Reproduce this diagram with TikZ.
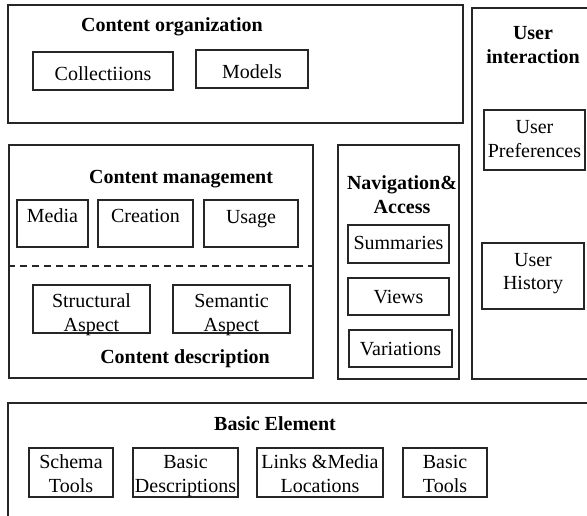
\documentclass[tikz,border=0pt]{standalone}
\usepackage{fontspec}
\setmainfont{Liberation Serif}
\begin{document}
\begin{tikzpicture}[x=1pt,y=-1pt,
  frame/.style={draw=black!85,line width=1.5pt,inner sep=0pt},
  item/.style={draw=black!85,line width=1.3pt,inner sep=0pt},
  txt/.style={inner sep=0pt,anchor=base,align=center,
    font=\fontsize{20}{24}\selectfont},
  ttl/.style={txt,font=\fontsize{20}{24}\selectfont\bfseries},
  sep/.style={draw=black!85,line width=1.3pt,dash pattern=on 7pt off 5pt}]
\clip (0,0) rectangle (587,516);
\fill[white] (0,0) rectangle (587,516);

% outer groups
\node[frame,minimum width=455,minimum height=118] (corg) at (235.5,64) {};
\node[frame,minimum width=148,minimum height=371] (uint) at (546,193.5) {};
\node[frame,minimum width=304,minimum height=233] (cman) at (161,261.5) {};
\node[frame,minimum width=121,minimum height=234] (nav) at (398.5,262) {};
\node[frame,minimum width=612,minimum height=137] (basic) at (314,471.5) {};

% group titles (placed by last baseline)
\node[ttl] (corgT) at (172,32) {Content organization};
\node[ttl] (uintT) at (533,64) {User\\interaction};
\node[ttl] (cmanT) at (181,184) {Content management};
\node[ttl] (navT) at (402,214) {Navigation\&\\Access};
\node[ttl] (cdesT) at (185,363) {Content description};
\node[ttl] (basicT) at (275,430) {Basic Element};

% content organization
\node[item,minimum width=140,minimum height=38] (coll) at (103,71) {};
\node[txt] (collT) at (103,81) {Collectiions};
\node[item,minimum width=112,minimum height=38] (models) at (252,69) {};
\node[txt] (modelsT) at (252,79) {Models};

% user interaction
\node[item,minimum width=101,minimum height=60] (upref) at (534.5,140) {};
\node[txt] (uprefT) at (534.5,158) {User\\Preferences};
\node[item,minimum width=102,minimum height=66] (uhist) at (533,276) {};
\node[txt] (uhistT) at (533,290) {User\\History};

% navigation & access
\node[item,minimum width=101,minimum height=38] (summ) at (398.5,244) {};
\node[txt] (summT) at (398.5,250) {Summaries};
\node[item,minimum width=101,minimum height=37] (views) at (398.5,296.5) {};
\node[txt] (viewsT) at (398.5,303) {Views};
\node[item,minimum width=103,minimum height=37] (vari) at (400.5,348.5) {};
\node[txt] (variT) at (400.5,355) {Variations};

% content management / description
\node[item,minimum width=71,minimum height=47] (media) at (52.5,223.5) {};
\node[txt] (mediaT) at (52.5,223) {Media};
\node[item,minimum width=95,minimum height=47] (creat) at (145.5,223.5) {};
\node[txt] (creatT) at (145.5,223) {Creation};
\node[item,minimum width=94,minimum height=47] (usage) at (251,223.5) {};
\node[txt] (usageT) at (251,224) {Usage};
\draw[sep] (cman.west |- 0,266) -- (cman.east |- 0,266);
\node[item,minimum width=117,minimum height=48] (struct) at (91.5,309) {};
\node[txt] (structT) at (91.5,331) {Structural\\Aspect};
\node[item,minimum width=117,minimum height=48] (seman) at (231.5,309) {};
\node[txt] (semanT) at (231.5,331) {Semantic\\Aspect};

% basic element
\node[item,minimum width=84,minimum height=49] (schema) at (71,472.5) {};
\node[txt] (schemaT) at (71,492) {Schema\\Tools};
\node[item,minimum width=105,minimum height=49] (bdesc) at (185.5,472.5) {};
\node[txt] (bdescT) at (185.5,492) {Basic\\Descriptions};
\node[item,minimum width=126,minimum height=49] (links) at (320,472.5) {};
\node[txt] (linksT) at (320,492) {Links \&Media\\Locations};
\node[item,minimum width=84,minimum height=49] (btools) at (445,472.5) {};
\node[txt] (btoolsT) at (445,492) {Basic\\Tools};
\end{tikzpicture}
\end{document}
